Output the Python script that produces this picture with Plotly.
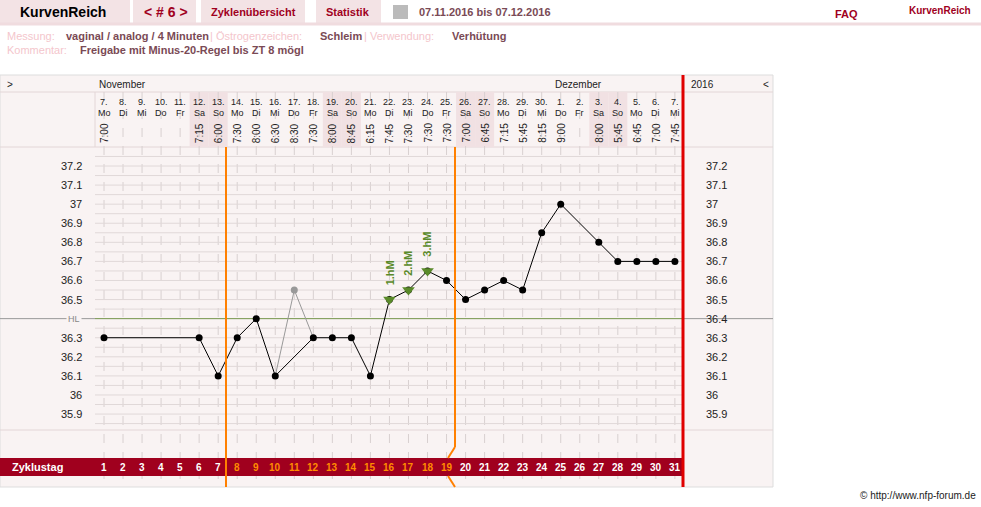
import plotly.graph_objects as go

days = list(range(1, 32))
dates = ["7.","8.","9.","10.","11.","12.","13.","14.","15.","16.","17.","18.","19.","20.","21.","22.","23.","24.","25.","26.","27.","28.","29.","30.","1.","2.","3.","4.","5.","6.","7."]
weekdays = ["Mo","Di","Mi","Do","Fr","Sa","So"]*5
times = ["7:00","","","","","7:15","6:00","7:30","8:00","6:30","8:30","7:30","8:00","8:45","6:15","7:45","7:30","7:30","7:30","7:00","6:45","7:15","5:45","8:15","9:00","","8:00","5:45","6:45","7:00","7:45"]
temps = [36.3,None,None,None,None,36.3,36.1,36.3,36.4,36.1,None,36.3,36.3,36.3,36.1,36.5,36.55,36.65,36.6,36.5,36.55,36.6,36.55,36.85,37.0,None,36.8,36.7,36.7,36.7,36.7]
excluded_day, excluded_temp = 11, 36.55
hm_days = [16, 17, 18]
hm_labels = ["1.hM", "2.hM", "3.hM"]
yticks = [37.2,37.1,37.0,36.9,36.8,36.7,36.6,36.5,36.4,36.3,36.2,36.1,36.0,35.9]
ytick_labels = ["37.2","37.1","37","36.9","36.8","36.7","36.6","36.5","36.4","36.3","36.2","36.1","36","35.9"]
cycle_days = [str(i) for i in range(1, 32)]
hl_value = 36.4

W, H = 981, 507
X0, DX = 104.0, 19.03
Y0, DY = 166.0, 190.8  # px of 37.2, px per degree
def dx(px): return 1 + (px - X0) / DX
def ty(py): return 37.2 - (py - Y0) / DY

fig = go.Figure()
shapes, ann = [], []
def rect(x0, y0, x1, y1, color, line=None):
    shapes.append(dict(type="rect", xref="x", yref="y", x0=dx(x0), x1=dx(x1), y0=ty(y0), y1=ty(y1),
                       fillcolor=color, line=dict(width=0) if line is None else line, layer="below"))
def seg(x0, y0, x1, y1, color, w=1, dash="solid", layer="below"):
    shapes.append(dict(type="line", xref="x", yref="y", x0=dx(x0), x1=dx(x1), y0=ty(y0), y1=ty(y1),
                       line=dict(color=color, width=w, dash=dash), layer=layer))
def text(px, py, s, size=11, color="#333", anchor="center", bold=False, angle=0, font="Liberation Sans"):
    ann.append(dict(x=dx(px), y=ty(py), xref="x", yref="y", text=f"<b>{s}</b>" if bold else s, showarrow=False,
                    xanchor=anchor, yanchor="middle", textangle=angle, font=dict(size=size, color=color, family=font)))

# header
for x0, x1 in [(0,130),(133,196),(201,305),(316,381)]:
    rect(x0, 0, x1, 23, "#f3e3e5")
seg(0, 24, 981, 24, "#f0dcdf", 3)
text(18, 12, "KurvenReich", 14, "#000", "left", True)
text(166, 12, "&lt; # 6 &gt;", 14, "#a0001e", "center", True)
text(253, 12, "Zyklenübersicht", 11, "#a0001e", "center", True)
text(348, 12, "Statistik", 11, "#a0001e", "center", True)
text(417, 12, "07.11.2016 bis 07.12.2016", 11, "#7a4a55", "left", True)
text(846, 14, "FAQ", 11, "#a0001e", "center", True)
text(907, 10, "KurvenReich", 10, "#a0001e", "left", True)
rect(393, 5, 408, 19, "#bbbbbb")
text(5, 36, "Messung:", 11, "#f4c6cc", "left")
text(64, 36, "vaginal / analog / 4 Minuten", 11, "#7a4a55", "left", True)
text(208, 36, "| Östrogenzeichen:", 11, "#f4c6cc", "left")
text(318, 36, "Schleim", 11, "#7a4a55", "left", True)
text(362, 36, "| Verwendung:", 11, "#f4c6cc", "left")
text(450, 36, "Verhütung", 11, "#7a4a55", "left", True)
text(5, 50, "Kommentar:", 11, "#f4c6cc", "left")
text(78, 50, "Freigabe mit Minus-20-Regel bis ZT 8 mögl", 11, "#7a4a55", "left", True)

# chart background
rect(0, 75, 773, 487, "#f9f3f3", dict(color="#dddddd", width=1))
seg(0, 92, 773, 92, "#e3d6d7")
seg(0, 147, 773, 147, "#e3d6d7")
seg(0, 430, 773, 430, "#e3d6d7")
seg(95, 92, 95, 147, "#e3d6d7")
for i, d in enumerate(days):
    cx = X0 + (d - 1) * DX
    if weekdays[i] in ("Sa", "So"):
        rect(cx - DX/2, 92, cx + DX/2, 147, "#f1e1e3")
    text(cx, 102, dates[i], 9, "#222")
    text(cx, 113, weekdays[i], 9, "#222")
    if times[i]:
        text(cx, 133, times[i], 10, "#222", angle=-90)
    seg(cx, 92, cx, 487, "#d8d0d0", 1, "dash")
text(5, 84, "&gt;", 10, "#222", "left")
text(97, 84, "November", 10, "#222", "left")
text(553, 84, "Dezember", 10, "#222", "left")
text(689, 84, "2016", 10, "#222", "left")
text(766, 84, "&lt;", 10, "#222", "center")

# horizontal grid every 0.05
for k in range(0, 29):
    t = 37.25 - k * 0.05
    shapes.append(dict(type="line", xref="x", yref="y", x0=dx(95), x1=dx(683), y0=t, y1=t,
                       line=dict(color="#e0d8d8", width=1), layer="below"))
for v, lab in zip(yticks, ytick_labels):
    if v != hl_value:
        ann.append(dict(x=dx(84), y=v, xref="x", yref="y", text=lab, showarrow=False, xanchor="right",
                        font=dict(size=11, color="#222", family="Liberation Sans")))
    ann.append(dict(x=dx(704), y=v, xref="x", yref="y", text=lab, showarrow=False, xanchor="left",
                    font=dict(size=11, color="#222", family="Liberation Sans")))
shapes.append(dict(type="line", xref="x", yref="y", x0=dx(95), x1=dx(683), y0=hl_value, y1=hl_value,
                   line=dict(color="#7a9a50", width=1), layer="below"))
shapes.append(dict(type="line", xref="x", yref="y", x0=dx(683), x1=dx(773), y0=hl_value, y1=hl_value,
                   line=dict(color="#999", width=1), layer="below"))
shapes.append(dict(type="line", xref="x", yref="y", x0=dx(0), x1=dx(95), y0=hl_value, y1=hl_value,
                   line=dict(color="#999", width=1), layer="below"))
ann.append(dict(x=dx(74), y=hl_value, xref="x", yref="y", text="HL", showarrow=False, xanchor="center",
                font=dict(size=9, color="#888", family="Liberation Sans"), bgcolor="#f9f3f3"))

# cycle band
rect(0, 458, 683, 476, "#a0001e")
text(10, 467, "Zyklustag", 11, "#fff", "left", True)
for i, d in enumerate(days):
    cx = X0 + (d - 1) * DX
    col = "#ff8c00" if 8 <= d <= 19 else "#ffffff"
    text(cx, 467, cycle_days[i], 10, col, bold=True)

# vertical markers
seg(226, 147, 226, 487, "#ff8000", 2, layer="above")
seg(455, 147, 455, 447, "#ff8000", 2, layer="above")
seg(455, 447, 448, 458, "#ff8000", 2, layer="above")
seg(448, 476, 455, 487, "#ff8000", 2, layer="above")
seg(683, 75, 683, 487, "#e00000", 3, layer="above")

# data
fig.add_trace(go.Scatter(x=[10, excluded_day, 12], y=[temps[9], excluded_temp, temps[11]], mode="lines",
                         line=dict(color="#999", width=1), hoverinfo="skip"))
fig.add_trace(go.Scatter(x=[excluded_day], y=[excluded_temp], mode="markers",
                         marker=dict(color="#999", size=7), hoverinfo="skip"))
fig.add_trace(go.Scatter(x=days, y=temps, mode="lines+markers", connectgaps=True,
                         line=dict(color="#000", width=1), marker=dict(color="#000", size=7)))
fig.add_trace(go.Scatter(x=hm_days, y=[temps[d-1] for d in hm_days], mode="markers",
                         marker=dict(symbol="triangle-down", color="#5a8a2a", size=11)))
for d, lab in zip(hm_days, hm_labels):
    ann.append(dict(x=d, y=temps[d-1] + 0.14, xref="x", yref="y", text=f"<b>{lab}</b>", showarrow=False,
                    textangle=-90, font=dict(color="#5a8a2a", size=11, family="Liberation Sans")))

text(978, 495, "© http://www.nfp-forum.de", 10, "#222", "right")

fig.update_layout(width=W, height=H, margin=dict(l=0, r=0, t=0, b=0), showlegend=False,
                  paper_bgcolor="#fff", plot_bgcolor="#fff", shapes=shapes, annotations=ann,
                  xaxis=dict(range=[dx(0), dx(W)], visible=False, fixedrange=True),
                  yaxis=dict(range=[ty(H), ty(0)], visible=False, fixedrange=True))
fig.write_html("out.html", config=dict(displayModeBar=False),
               post_script="document.body.style.margin='0';document.body.style.overflow='hidden';")
